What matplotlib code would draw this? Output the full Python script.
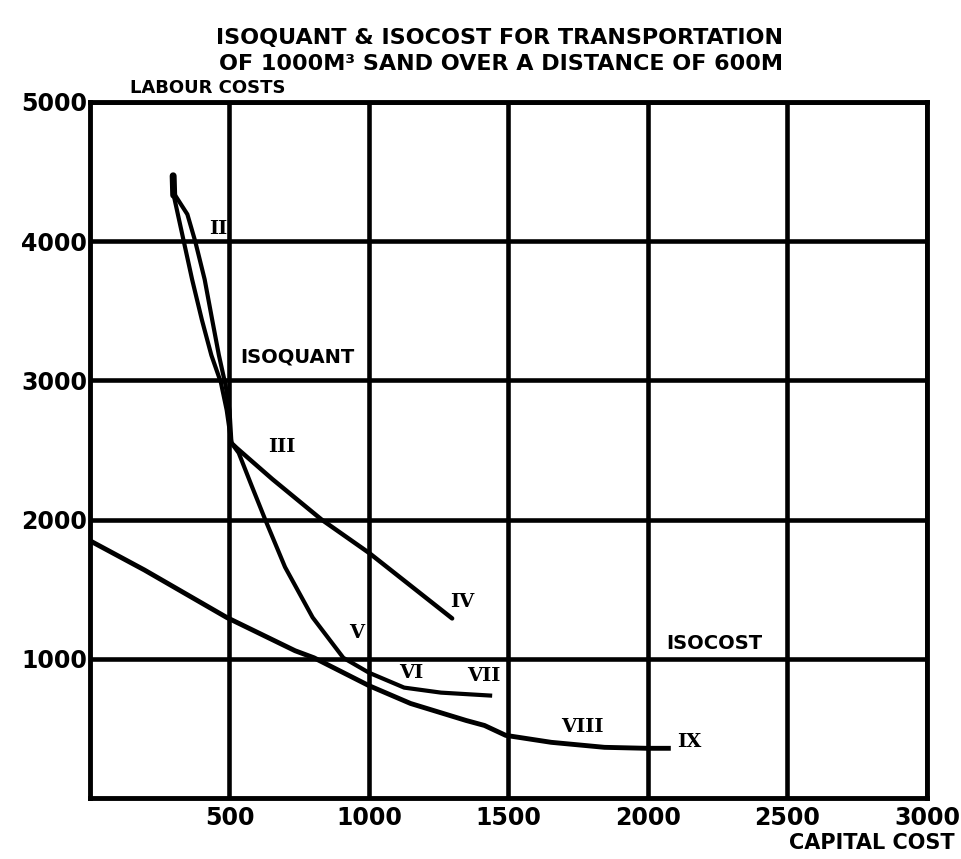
import matplotlib
matplotlib.use("Agg")
import matplotlib.pyplot as plt

# 축 눈금
x_ticks = [500, 1000, 1500, 2000, 2500, 3000]
y_ticks = [1000, 2000, 3000, 4000, 5000]

# isoquant - 위쪽 두 갈래 (II 쪽, 왼쪽)
top_dot_x = [298, 300]
top_dot_y = [4470, 4330]
iso_right_x = [308, 349, 377, 411, 438, 462, 486, 500, 507]
iso_right_y = [4321, 4193, 4000, 3725, 3435, 3181, 2964, 2786, 2550]
iso_left_x = [301, 336, 366, 401, 435, 469, 490, 507]
iso_left_y = [4321, 4000, 3725, 3435, 3181, 2986, 2786, 2550]

# III -> IV 직선
iso_iv_x = [507, 526, 654, 830, 1000, 1298]
iso_iv_y = [2550, 2514, 2290, 2000, 1761, 1290]

# V -> VI -> VII 곡선
iso_v_x = [507, 533, 578, 628, 699, 798, 908, 1000, 1126, 1258, 1434]
iso_v_y = [2550, 2479, 2250, 2000, 1659, 1297, 1007, 900, 793, 757, 736]

# isocost 곡선
cost_x = [0, 195, 490, 735, 803, 1000, 1149, 1348, 1414, 1490, 1653, 1844, 1996, 2073]
cost_y = [1848, 1638, 1297, 1058, 1007, 807, 679, 557, 521, 450, 400, 364, 357, 357]

# 로마숫자 라벨
roman_text = ["II", "III", "IV", "V", "VI", "VII", "VIII", "IX"]
roman_x = [459, 688, 1335, 956, 1152, 1410, 1763, 2149]
roman_y = [4090, 2521, 1406, 1188, 900, 879, 507, 400]

fig = plt.figure(figsize=(9.62, 8.59), dpi=100)
ax = fig.add_axes([90 / 962, 1 - 798 / 859, 837 / 962, 696 / 859])

ax.set_xlim(0, 3000)
ax.set_ylim(0, 5000)
ax.set_xticks(x_ticks)
ax.set_yticks(y_ticks)
ax.tick_params(length=0, labelsize=17, pad=2)
ax.tick_params(axis="x", pad=6)
for lab in ax.get_xticklabels() + ax.get_yticklabels():
    lab.set_fontweight("bold")
ax.grid(True, color="black", linewidth=3.3)
for sp in ax.spines.values():
    sp.set_linewidth(3.5)

# 곡선 그리기
ax.plot(top_dot_x, top_dot_y, color="black", linewidth=5, solid_capstyle="round")
ax.plot(iso_right_x, iso_right_y, color="black", linewidth=3)
ax.plot(iso_left_x, iso_left_y, color="black", linewidth=3)
ax.plot(iso_iv_x, iso_iv_y, color="black", linewidth=3.2, solid_capstyle="round")
ax.plot(iso_v_x, iso_v_y, color="black", linewidth=3)
ax.plot(cost_x, cost_y, color="black", linewidth=3.5)

# 라벨
for t, x, y in zip(roman_text, roman_x, roman_y):
    ax.text(x, y, t, family="DejaVu Serif", fontweight="bold", fontsize=14,
            ha="center", va="center")
ax.text(540, 3167, "ISOQUANT", fontweight="bold", fontsize=14, ha="left", va="center")
ax.text(2237, 1109, "ISOCOST", fontweight="bold", fontsize=14, ha="center", va="center")

# 제목, 축 이름
fig.text(500 / 962, 1 - 38 / 859, "ISOQUANT & ISOCOST FOR TRANSPORTATION",
         fontweight="bold", fontsize=16, ha="center", va="center")
fig.text(501 / 962, 1 - 64 / 859, "OF 1000M³ SAND OVER A DISTANCE OF 600M",
         fontweight="bold", fontsize=16, ha="center", va="center")
fig.text(130 / 962, 1 - 88 / 859, "LABOUR COSTS", fontweight="bold", fontsize=13,
         ha="left", va="center")
fig.text(955 / 962, 1 - 843 / 859, "CAPITAL COST", fontweight="bold", fontsize=15,
         ha="right", va="center")

fig.savefig("out.png", dpi=100)
